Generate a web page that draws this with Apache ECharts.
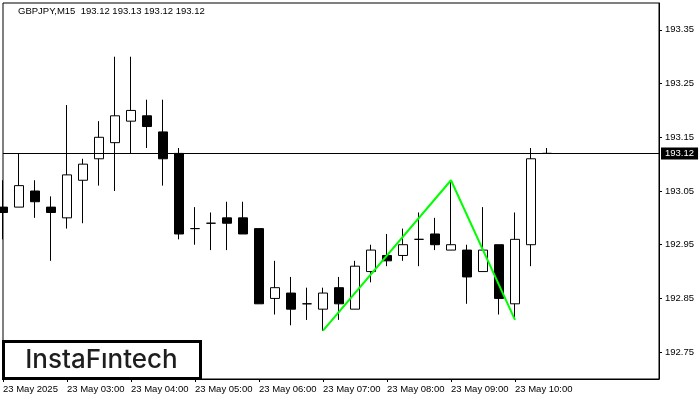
<!DOCTYPE html>
<html>
<head>
<meta charset="utf-8">
<script src="https://cdn.jsdelivr.net/npm/echarts@6/dist/echarts.min.js"></script>
<style>html,body{margin:0;padding:0;background:#fff;}#c{width:700px;height:400px;}</style>
</head>
<body>
<div id="c"></div>
<script>
// ---- data ----
var symbol = 'GBPJPY,M15';
var times = ['02:00','02:15','02:30','02:45','03:00','03:15','03:30','03:45','04:00','04:15','04:30','04:45',
  '05:00','05:15','05:30','05:45','06:00','06:15','06:30','06:45','07:00','07:15','07:30','07:45',
  '08:00','08:15','08:30','08:45','09:00','09:15','09:30','09:45','10:00','10:15','10:30',
  '10:45','11:00','11:15','11:30','11:45','12:00','12:15'];
var xTickLabels = {'02:00':'23 May 2025','03:00':'23 May 03:00','04:00':'23 May 04:00','05:00':'23 May 05:00',
  '06:00':'23 May 06:00','07:00':'23 May 07:00','08:00':'23 May 08:00','09:00':'23 May 09:00','10:00':'23 May 10:00'};
var opens  = [193.02,193.02,193.05,193.02,193.00,193.07,193.11,193.14,193.18,193.19,193.16,193.12,192.98,192.99,193.00,193.00,192.98,192.85,192.86,192.84,192.83,192.87,192.83,192.90,192.93,192.93,192.96,192.97,192.94,192.94,192.90,192.95,192.84,192.95,193.12];
var highs  = [193.07,193.12,193.07,193.04,193.21,193.11,193.18,193.30,193.30,193.22,193.22,193.13,193.02,193.01,193.03,193.03,192.98,192.92,192.89,192.87,192.87,192.89,192.92,192.95,192.97,192.98,193.01,193.00,193.07,192.95,193.02,192.95,193.01,193.13,193.13];
var lows   = [192.96,193.02,193.00,192.92,192.98,192.99,193.06,193.05,193.12,193.13,193.06,192.96,192.95,192.94,192.94,192.97,192.84,192.82,192.80,192.81,192.79,192.81,192.83,192.88,192.91,192.92,192.91,192.94,192.94,192.84,192.90,192.82,192.81,192.91,193.12];
var closes = [193.01,193.06,193.03,193.01,193.08,193.10,193.15,193.19,193.20,193.17,193.11,192.97,192.98,192.99,192.99,192.97,192.84,192.87,192.83,192.84,192.86,192.84,192.91,192.94,192.92,192.95,192.96,192.95,192.95,192.89,192.94,192.85,192.96,193.11,193.12];
var patternIdx  = [20, 28, 32];
var patternVals = [192.79, 193.07, 192.81];
var yTicks = [192.75,192.85,192.95,193.05,193.15,193.25,193.35];
var yMin = 192.70, yMax = 193.40;

// ---- build ----
var candles = opens.map(function(o,i){ return [o, closes[i], lows[i], highs[i]]; });
var patternData = patternIdx.map(function(k,i){ return [k, patternVals[i]]; });
var n = opens.length;
var last = n - 1;
var titleText = symbol + '  ' + [opens[last],highs[last],lows[last],closes[last]].map(function(v){return v.toFixed(2);}).join(' ');
var FONT = 'Liberation Sans';
var showIdx = function(idx){ return xTickLabels.hasOwnProperty(times[idx]); };

var chart = echarts.init(document.getElementById('c'), null, {renderer:'canvas'});
chart.setOption({
  animation: false,
  backgroundColor: '#fff',
  title: {
    text: titleText, left: 18, top: 6, padding: 0,
    textStyle: {fontSize: 9.5, fontWeight: 'normal', color: '#000', fontFamily: FONT}
  },
  grid: {left: 3, right: 41, top: 3, bottom: 21, show: true, borderColor: '#000', borderWidth: 1, backgroundColor: 'transparent'},
  xAxis: {
    type: 'category', data: times, boundaryGap: false,
    axisLine: {show: true, lineStyle: {color: '#000', width: 1}},
    axisTick: {show: true, interval: showIdx, length: 3, lineStyle: {color: '#000'}},
    axisLabel: {
      interval: showIdx, align: 'left', margin: 5, color: '#000', fontSize: 9.5, fontFamily: FONT,
      formatter: function(v){ return xTickLabels[v] || ''; }
    },
    splitLine: {show: false}
  },
  yAxis: {
    type: 'value', position: 'right', min: yMin, max: yMax, scale: true,
    axisLine: {show: true, lineStyle: {color: '#000', width: 1}},
    axisTick: {show: true, customValues: yTicks, length: 3, lineStyle: {color: '#000'}},
    axisLabel: {customValues: yTicks, margin: 6, color: '#000', fontSize: 9.5, fontFamily: FONT,
      formatter: function(v){ return v.toFixed(2); }},
    splitLine: {show: false}
  },
  series: [{
    type: 'candlestick', data: candles, barWidth: 10, clip: true,
    itemStyle: {color: '#fff', color0: '#000', borderColor: '#000', borderColor0: '#000', borderColorDoji: '#000', borderWidth: 1},
    markLine: {
      silent: true, symbol: ['none','none'], animation: false,
      lineStyle: {color: '#000', width: 1, type: 'solid'},
      label: {show: true, position: 'end', distance: 2, color: '#fff', backgroundColor: '#000',
        padding: [1,4,1,4], fontSize: 9.5, fontFamily: FONT,
        formatter: function(p){ return p.value.toFixed(2); }},
      emphasis: {disabled: true},
      data: [{yAxis: closes[last]}]
    }
  }, {
    type: 'line', data: patternData, symbol: 'none', z: 5,
    lineStyle: {color: '#00ff00', width: 2}
  }],
  graphic: [{
    type: 'rect', z: 100, shape: {x: 3.5, y: 341.5, width: 197, height: 37},
    style: {fill: '#fff', stroke: '#000', lineWidth: 3}
  }, {
    type: 'text', z: 101, x: 101.5, y: 360,
    style: {text: 'InstaF\u0131ntech', textAlign: 'center', textVerticalAlign: 'middle',
      font: '500 26px Inter', fill: '#1e1e1e'}
  }]
});
</script>
</body>
</html>
